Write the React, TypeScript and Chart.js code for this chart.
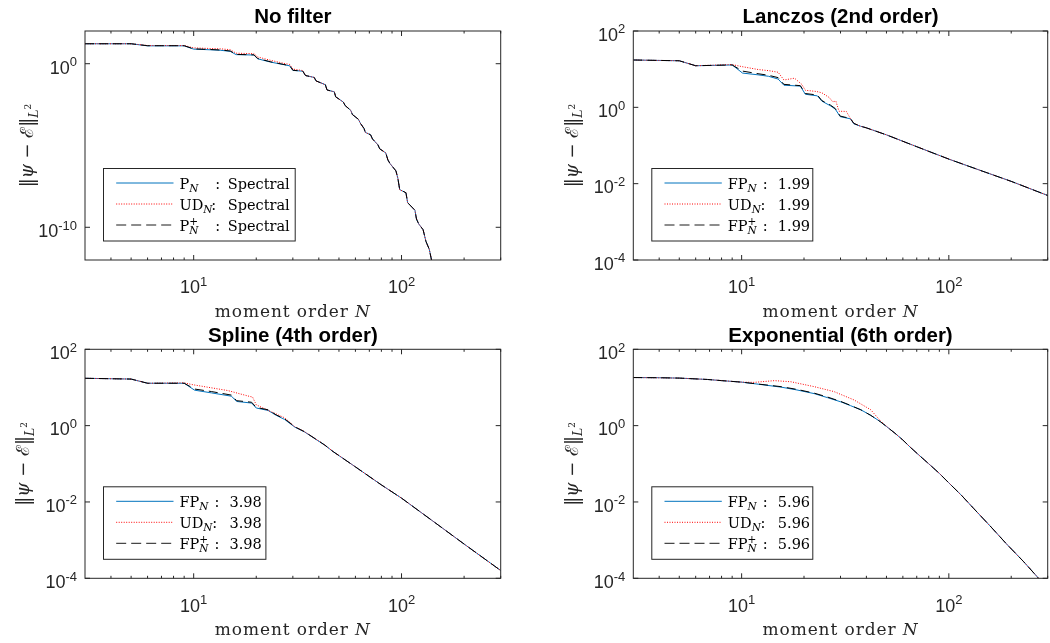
import React, { useEffect, useRef } from 'react';
import { Chart, registerables } from 'chart.js';

Chart.register(...registerables);

// ---------------- data ----------------
const xMajorTicks = [10, 100];
const xMinorTicks = [4, 5, 6, 7, 8, 9, 20, 30, 40, 50, 60, 70, 80, 90, 200, 300];
const xRange = [3, 300];
const yTicksNoFilter = [1, 1e-10];
const yTicksFiltered = [100, 1, 1e-2, 1e-4];
const yRangeNoFilter = [1e-12, 100];
const yRangeFiltered = [1e-4, 100];

const panelTitles = ['No filter', 'Lanczos (2nd order)', 'Spline (4th order)', 'Exponential (6th order)'];
const legendScores = ['Spectral', '1.99', '3.98', '5.96'];

// No filter
const nNoFilter = [3, 5, 6, 9, 10, 12, 13.5, 15, 16, 19.5, 20.3, 23.5, 27.5, 29, 30, 33.5, 34.5, 38, 38.8, 43, 43.8, 47.5, 48.2, 52.5, 53.5, 57, 58, 62, 63.5, 66, 67, 71, 72.5, 77, 78.5, 84, 86, 88, 94, 96, 98, 105, 107, 116, 118, 121, 127, 131, 136, 141];
const noFilterFP = [16.6, 16.6, 12.4, 12.4, 7.8, 7.1, 6.6, 5.7, 3.6, 3.4, 2.0, 1.25, 0.85, 0.74, 0.39, 0.35, 0.19, 0.145, 0.089, 0.052, 0.025, 0.019, 0.0095, 0.0045, 0.0028, 0.0014, 7.9e-4, 4.0e-4, 2.2e-4, 1.1e-4, 6.3e-5, 4.5e-5, 2.5e-5, 1.1e-5, 6.3e-6, 3.5e-6, 1.3e-6, 7.9e-7, 2.8e-7, 1.0e-7, 2.0e-8, 1.3e-8, 3.2e-9, 1.1e-9, 3.2e-10, 1.6e-10, 7.1e-11, 1.4e-11, 4.5e-12, 5.0e-13];
const noFilterFPplus = [16.6, 16.6, 12.6, 12.6, 8.1, 7.4, 6.9, 6.0, 3.7, 3.5, 2.1, 1.3, 0.87, 0.76, 0.40, 0.35, 0.19, 0.145, 0.089, 0.052, 0.025, 0.019, 0.0095, 0.0045, 0.0028, 0.0014, 7.9e-4, 4.0e-4, 2.2e-4, 1.1e-4, 6.3e-5, 4.5e-5, 2.5e-5, 1.1e-5, 6.3e-6, 3.5e-6, 1.3e-6, 7.9e-7, 2.8e-7, 1.0e-7, 2.0e-8, 1.3e-8, 3.2e-9, 1.1e-9, 3.2e-10, 1.6e-10, 7.1e-11, 1.4e-11, 4.5e-12, 5.0e-13];
const nNoFilterUD = nNoFilter;
const noFilterUD = [16.6, 16.6, 12.9, 12.9, 9.3, 8.5, 8.1, 7.2, 4.4, 4.1, 2.6, 1.6, 1.02, 0.9, 0.47, 0.38, 0.19, 0.145, 0.089, 0.052, 0.025, 0.019, 0.0095, 0.0045, 0.0028, 0.0014, 7.9e-4, 4.0e-4, 2.2e-4, 1.1e-4, 6.3e-5, 4.5e-5, 2.5e-5, 1.1e-5, 6.3e-6, 3.5e-6, 1.3e-6, 7.9e-7, 2.8e-7, 1.0e-7, 2.0e-8, 1.3e-8, 3.2e-9, 1.1e-9, 3.2e-10, 1.6e-10, 7.1e-11, 1.4e-11, 4.5e-12, 5.0e-13];

// Lanczos (2nd order)
const nLanczos = [3, 5, 6, 9, 10.1, 12, 13.5, 15, 16, 19.2, 20.3, 23.2, 24.4, 26.8, 28.3, 29.9, 33.5, 34.8, 37.5, 40, 50, 70, 100, 150, 200, 300];
const lanczosFP = [17.4, 16.6, 12.3, 12.9, 7.9, 7.1, 6.5, 5.5, 3.8, 3.6, 2.2, 2.0, 1.45, 1.1, 0.9, 0.57, 0.5, 0.37, 0.32, 0.29, 0.19, 0.093, 0.044, 0.020, 0.0115, 0.0049];
const lanczosFPplus = [17.4, 16.6, 12.3, 12.9, 8.9, 7.6, 6.9, 6.0, 4.0, 3.7, 2.3, 2.1, 1.5, 1.15, 0.93, 0.59, 0.51, 0.38, 0.32, 0.29, 0.19, 0.093, 0.044, 0.020, 0.0115, 0.0049];
const nLanczosUD = [3, 5, 6, 9, 10, 12, 13.6, 15, 16, 18, 19.5, 20.3, 23, 24.4, 26.5, 27.5, 28.5, 29.5, 32, 33.5, 34.8, 37.5, 40, 50, 70, 100, 150, 200, 300];
const lanczosUD = [17.4, 16.6, 12.3, 13.2, 11.7, 9.8, 9.1, 8.3, 5.2, 5.8, 4.0, 2.8, 2.6, 2.4, 1.8, 1.4, 1.45, 0.79, 0.78, 0.51, 0.38, 0.32, 0.29, 0.19, 0.093, 0.044, 0.020, 0.0115, 0.0049];

// Spline (4th order)
const nSpline = [3, 5, 6, 9, 10.1, 12.2, 15.2, 16.1, 19, 20, 22.8, 25, 27.4, 30.7, 34.2, 42.7, 46.8, 60, 80, 100, 150, 200, 300];
const splineFP = [17.4, 16.6, 12.9, 12.9, 8.5, 7.2, 5.9, 4.3, 3.9, 2.9, 2.5, 1.85, 1.45, 0.91, 0.68, 0.31, 0.21, 0.083, 0.028, 0.0126, 0.0025, 7.9e-4, 1.6e-4];
const splineFPplus = [17.4, 16.6, 12.9, 12.9, 9.1, 7.8, 6.3, 4.5, 4.1, 3.0, 2.6, 1.9, 1.5, 0.93, 0.69, 0.31, 0.21, 0.083, 0.028, 0.0126, 0.0025, 7.9e-4, 1.6e-4];
const nSplineUD = [3, 5, 6, 9, 10, 14.6, 18.2, 19.2, 20, 24.1, 27.4, 30.7, 34.2, 42.7, 46.8, 60, 80, 100, 150, 200, 300];
const splineUD = [17.4, 16.6, 12.9, 13.2, 11.7, 8.3, 6.0, 5.6, 3.5, 2.2, 1.6, 0.93, 0.69, 0.31, 0.21, 0.083, 0.028, 0.0126, 0.0025, 7.9e-4, 1.6e-4];

// Exponential (6th order)
const nExp = [3, 4, 5, 6.85, 8, 10, 12, 15.5, 18.5, 22.4, 26, 30.1, 33.5, 37.6, 42, 46.8, 50, 55, 60, 65, 72, 80, 90, 100, 115, 131.6, 160, 190, 230, 272, 300];
const expFP = [18.2, 18.0, 17.6, 16.2, 15.1, 13.8, 12.2, 10.2, 8.6, 6.9, 5.4, 4.2, 3.35, 2.6, 1.86, 1.26, 0.95, 0.63, 0.42, 0.275, 0.166, 0.1, 0.056, 0.0316, 0.015, 0.0068, 0.0022, 7.9e-4, 2.7e-4, 9.8e-5, 5.5e-5];
const expFPplus = [18.2, 18.0, 17.6, 16.2, 15.1, 13.8, 12.3, 10.5, 8.9, 7.1, 5.6, 4.3, 3.4, 2.6, 1.86, 1.26, 0.95, 0.63, 0.42, 0.275, 0.166, 0.1, 0.056, 0.0316, 0.015, 0.0068, 0.0022, 7.9e-4, 2.7e-4, 9.8e-5, 5.5e-5];
const nExpUD = [3, 5, 6.85, 10, 11.5, 14.4, 17.3, 22.4, 27.9, 34.9, 42, 46.8, 52.3, 55, 60, 65, 72, 80, 90, 100, 115, 131.6, 160, 190, 230, 272, 300];
const expUD = [18.2, 17.6, 16.2, 13.8, 13.6, 15.1, 14.1, 10.5, 7.8, 4.7, 2.6, 1.32, 0.78, 0.63, 0.42, 0.275, 0.166, 0.1, 0.056, 0.0316, 0.015, 0.0068, 0.0022, 7.9e-4, 2.7e-4, 9.8e-5, 5.5e-5];

// ---------------- styling / layout ----------------
const SANS = '"Liberation Sans", Arial, Helvetica, sans-serif';
const SERIF = '"DejaVu Serif", "Liberation Serif", serif';
const TEXT = '#262626';
const BLUE = '#0072BD';
const RED = '#FF0000';

type Part = { t: string; size: number; fam: string; italic?: boolean; bold?: boolean; dy?: number; stack?: boolean };

type PanelCfg = {
  idx: number;
  canvas: { left: number; top: number; w: number; h: number };
  area: { l: number; t: number; r: number; b: number };
  nMain: number[];
  fp: number[];
  fpPlus: number[];
  nUD: number[];
  ud: number[];
  yRange: number[];
  yTicks: number[];
  prefix: string;
  legendW: number;
  colonOff: number[];
  valueOff: number;
  yLabelGap: number;
};

const panels: PanelCfg[] = [
  {
    idx: 0, canvas: { left: 0, top: 0, w: 525, h: 322 }, area: { l: 85, t: 31, r: 500.7, b: 260 },
    nMain: nNoFilter, fp: noFilterFP, fpPlus: noFilterFPplus, nUD: nNoFilterUD, ud: noFilterUD,
    yRange: yRangeNoFilter, yTicks: yTicksNoFilter, prefix: 'P', legendW: 191.7,
    colonOff: [35.7, 31.7, 35.7], valueOff: 48.3, yLabelGap: 52,
  },
  {
    idx: 1, canvas: { left: 525, top: 0, w: 525, h: 322 }, area: { l: 633.3, t: 31, r: 1047.7, b: 260 },
    nMain: nLanczos, fp: lanczosFP, fpPlus: lanczosFPplus, nUD: nLanczosUD, ud: lanczosUD,
    yRange: yRangeFiltered, yTicks: yTicksFiltered, prefix: 'FP', legendW: 161,
    colonOff: [35, 32.7, 35], valueOff: 50, yLabelGap: 55.6,
  },
  {
    idx: 2, canvas: { left: 0, top: 322, w: 525, h: 321 }, area: { l: 85, t: 349.3, r: 500.7, b: 578.3 },
    nMain: nSpline, fp: splineFP, fpPlus: splineFPplus, nUD: nSplineUD, ud: splineUD,
    yRange: yRangeFiltered, yTicks: yTicksFiltered, prefix: 'FP', legendW: 162.4,
    colonOff: [35, 32.7, 35], valueOff: 50, yLabelGap: 55.6,
  },
  {
    idx: 3, canvas: { left: 525, top: 322, w: 525, h: 321 }, area: { l: 633.3, t: 349.3, r: 1047.7, b: 578.3 },
    nMain: nExp, fp: expFP, fpPlus: expFPplus, nUD: nExpUD, ud: expUD,
    yRange: yRangeFiltered, yTicks: yTicksFiltered, prefix: 'FP', legendW: 161,
    colonOff: [35, 32.7, 35], valueOff: 50, yLabelGap: 55.6,
  },
];

function setFont(ctx: CanvasRenderingContext2D, p: Part) {
  ctx.font = `${p.italic ? 'italic ' : ''}${p.bold ? 'bold ' : ''}${p.size}px ${p.fam}`;
}

function richWidth(ctx: CanvasRenderingContext2D, parts: Part[]) {
  let w = 0;
  let pend = 0;
  for (const p of parts) {
    setFont(ctx, p);
    const m = ctx.measureText(p.t).width;
    if (p.stack) pend = m;
    else {
      w += Math.max(m, pend);
      pend = 0;
    }
  }
  return w;
}

function drawRich(ctx: CanvasRenderingContext2D, x: number, y: number, parts: Part[]) {
  let cx = x;
  let pend = 0;
  for (const p of parts) {
    setFont(ctx, p);
    ctx.fillText(p.t, cx, y + (p.dy || 0));
    const m = ctx.measureText(p.t).width;
    if (p.stack) pend = m;
    else {
      cx += Math.max(m, pend);
      pend = 0;
    }
  }
  return cx;
}

function tickParts(v: number): Part[] {
  const e = Math.round(Math.log10(v));
  return [
    { t: '10', size: 18, fam: SANS },
    { t: String(e), size: 13, fam: SANS, dy: -7.5 },
  ];
}

function makeDecor(cfg: PanelCfg) {
  return {
    id: 'decor' + cfg.idx,
    afterDraw(chart: any) {
      const ctx: CanvasRenderingContext2D = chart.ctx;
      const ca = chart.chartArea;
      const xs = chart.scales.x;
      const ys = chart.scales.y;
      ctx.save();
      ctx.strokeStyle = TEXT;
      ctx.lineWidth = 1;
      ctx.setLineDash([]);
      ctx.strokeRect(ca.left, ca.top, ca.right - ca.left, ca.bottom - ca.top);
      const seg = (x1: number, y1: number, x2: number, y2: number) => {
        ctx.beginPath();
        ctx.moveTo(x1, y1);
        ctx.lineTo(x2, y2);
        ctx.stroke();
      };
      for (const v of xMajorTicks) {
        const px = xs.getPixelForValue(v);
        seg(px, ca.bottom, px, ca.bottom - 5);
        seg(px, ca.top, px, ca.top + 5);
      }
      for (const v of xMinorTicks) {
        const px = xs.getPixelForValue(v);
        seg(px, ca.bottom, px, ca.bottom - 2.5);
        seg(px, ca.top, px, ca.top + 2.5);
      }
      for (const v of cfg.yTicks) {
        const py = ys.getPixelForValue(v);
        seg(ca.left, py, ca.left + 5, py);
        seg(ca.right, py, ca.right - 5, py);
      }

      ctx.fillStyle = TEXT;
      ctx.textAlign = 'left';
      ctx.textBaseline = 'alphabetic';
      for (const v of xMajorTicks) {
        const px = xs.getPixelForValue(v);
        const parts = tickParts(v);
        const w = richWidth(ctx, parts);
        drawRich(ctx, px - w / 2, ca.bottom + 33.3, parts);
      }
      for (const v of cfg.yTicks) {
        const py = ys.getPixelForValue(v);
        const parts = tickParts(v);
        const w = richWidth(ctx, parts);
        drawRich(ctx, ca.left - 8 - w, py + 9.8, parts);
      }

      // title
      ctx.fillStyle = '#000';
      ctx.font = `bold 20.5px ${SANS}`;
      ctx.textAlign = 'center';
      ctx.fillText(panelTitles[cfg.idx], (ca.left + ca.right) / 2, ca.top - 7.7);
      ctx.textAlign = 'left';

      // x label
      ctx.fillStyle = TEXT;
      const xl: Part[] = [
        { t: 'moment order ', size: 17, fam: SERIF },
        { t: 'N', size: 17, fam: SERIF, italic: true },
      ];
      (ctx as any).letterSpacing = '0.9px';
      const xlw = richWidth(ctx, xl);
      drawRich(ctx, (ca.left + ca.right) / 2 - xlw / 2, ca.bottom + 56.7, xl);
      (ctx as any).letterSpacing = '0px';

      // y label
      const yl: Part[] = [
        { t: '\u2016', size: 18, fam: SERIF },
        { t: '\u03C8', size: 18, fam: SERIF, italic: true },
        { t: ' \u2212 ', size: 18, fam: SERIF },
        { t: '\u2130', size: 18, fam: SERIF },
        { t: '\u2016', size: 18, fam: SERIF },
        { t: 'L', size: 12.5, fam: SERIF, italic: true, dy: 4.5 },
        { t: '2', size: 9, fam: SERIF, dy: -2.5 },
      ];
      const ylw = richWidth(ctx, yl);
      ctx.save();
      ctx.translate(ca.left - cfg.yLabelGap, (ca.top + ca.bottom) / 2);
      ctx.rotate(-Math.PI / 2);
      drawRich(ctx, -ylw / 2, 0, yl);
      ctx.restore();

      // legend
      const lh = 72.5;
      const lx = ca.left + 18.5;
      const ly = ca.bottom - 19 - lh;
      ctx.fillStyle = '#fff';
      ctx.fillRect(lx, ly, cfg.legendW, lh);
      ctx.strokeStyle = '#262626';
      ctx.lineWidth = 1;
      ctx.strokeRect(lx, ly, cfg.legendW, lh);
      const rows: { parts: Part[]; color: string; dash: number[] }[] = [
        {
          parts: [
            { t: cfg.prefix, size: 14.5, fam: SERIF },
            { t: 'N', size: 10.5, fam: SERIF, italic: true, dy: 3 },
          ],
          color: BLUE,
          dash: [],
        },
        {
          parts: [
            { t: 'UD', size: 14.5, fam: SERIF },
            { t: 'N', size: 10.5, fam: SERIF, italic: true, dy: 3 },
          ],
          color: RED,
          dash: [1, 1.5],
        },
        {
          parts: [
            { t: cfg.prefix, size: 14.5, fam: SERIF },
            { t: '+', size: 10.5, fam: SERIF, dy: -6, stack: true },
            { t: 'N', size: 10.5, fam: SERIF, italic: true, dy: 3 },
          ],
          color: '#1a1a1a',
          dash: [10, 5],
        },
      ];
      const baselines = [20, 41, 62];
      const tx = lx + 76;
      rows.forEach((row, i) => {
        const by = ly + baselines[i];
        ctx.strokeStyle = row.color;
        ctx.setLineDash(row.dash);
        seg(lx + 12.7, by - 5.5, lx + 70, by - 5.5);
        ctx.setLineDash([]);
        ctx.fillStyle = '#000';
        drawRich(ctx, tx, by, row.parts);
        ctx.font = `14.5px ${SERIF}`;
        ctx.fillText(':', tx + cfg.colonOff[i], by);
        ctx.fillText(legendScores[cfg.idx], tx + cfg.valueOff, by);
      });
      ctx.restore();
    },
  };
}

function toPoints(xs: number[], ys: number[]) {
  return xs.map((x, i) => ({ x, y: ys[i] }));
}

function Panel({ cfg }: { cfg: PanelCfg }) {
  const ref = useRef<HTMLCanvasElement | null>(null);
  useEffect(() => {
    if (!ref.current) return;
    const c = cfg.canvas;
    const a = cfg.area;
    const chart = new Chart(ref.current, {
      type: 'line',
      data: {
        datasets: [
          {
            label: 'FP+',
            data: toPoints(cfg.nMain, cfg.fpPlus),
            borderColor: '#000000',
            borderWidth: 1,
            borderDash: [9, 5],
            pointRadius: 0,
            tension: 0,
            fill: false,
            order: 0,
          },
          {
            label: 'UD',
            data: toPoints(cfg.nUD, cfg.ud),
            borderColor: RED,
            borderWidth: 1,
            borderDash: [1, 1.5],
            pointRadius: 0,
            tension: 0,
            fill: false,
            order: 1,
          },
          {
            label: 'FP',
            data: toPoints(cfg.nMain, cfg.fp),
            borderColor: BLUE,
            borderWidth: 1,
            pointRadius: 0,
            tension: 0,
            fill: false,
            order: 2,
          },
        ],
      },
      options: {
        animation: false,
        responsive: false,
        events: [],
        layout: {
          padding: { left: 0, top: a.t - c.top, right: c.left + c.w - a.r, bottom: 0 },
        },
        scales: {
          x: {
            type: 'logarithmic',
            min: xRange[0],
            max: xRange[1],
            ticks: { display: false },
            grid: { display: false },
            border: { display: false },
            afterFit: (s: any) => {
              s.height = c.top + c.h - a.b;
            },
          },
          y: {
            type: 'logarithmic',
            min: cfg.yRange[0],
            max: cfg.yRange[1],
            ticks: { display: false },
            grid: { display: false },
            border: { display: false },
            afterFit: (s: any) => {
              s.width = a.l - c.left;
            },
          },
        },
        plugins: {
          legend: { display: false },
          tooltip: { enabled: false },
          title: { display: false },
        },
      } as any,
      plugins: [makeDecor(cfg)],
    });
    return () => chart.destroy();
  }, [cfg]);
  return (
    <canvas
      ref={ref}
      width={cfg.canvas.w}
      height={cfg.canvas.h}
      style={{
        position: 'absolute',
        left: cfg.canvas.left,
        top: cfg.canvas.top,
        width: cfg.canvas.w,
        height: cfg.canvas.h,
      }}
    />
  );
}

export default function App() {
  return (
    <div
      style={{
        position: 'fixed',
        left: 0,
        top: 0,
        width: 1050,
        height: 643,
        background: '#ffffff',
        overflow: 'hidden',
      }}
    >
      {panels.map((p) => (
        <Panel key={p.idx} cfg={p} />
      ))}
    </div>
  );
}
